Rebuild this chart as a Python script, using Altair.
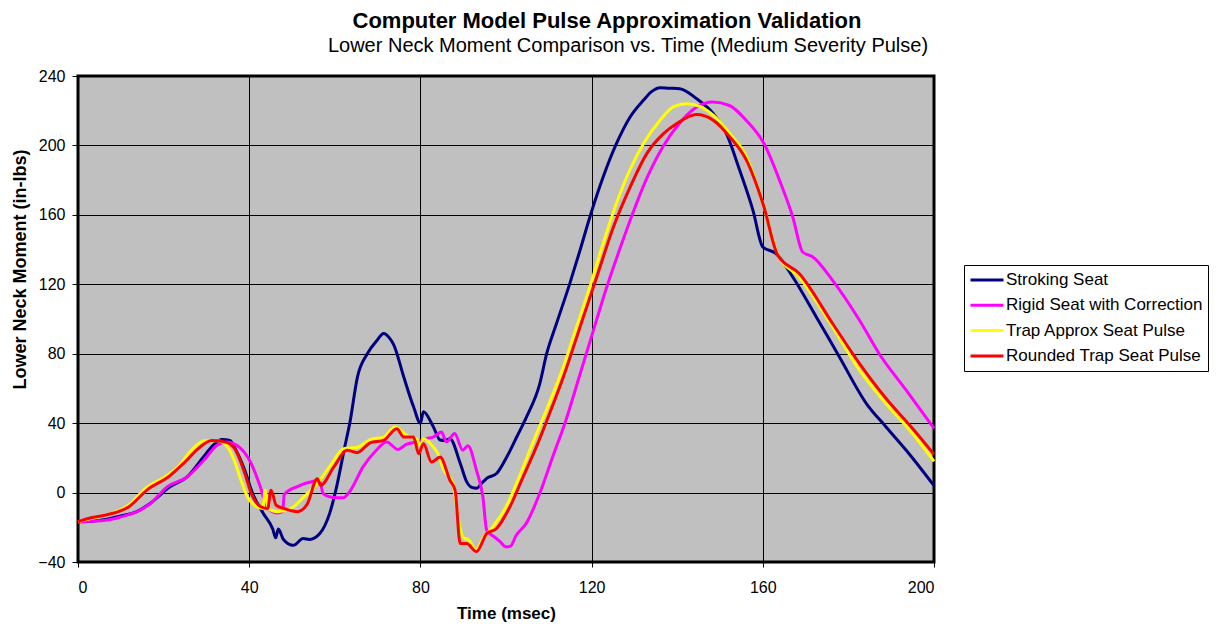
import altair as alt
import pandas as pd

FONT = "Liberation Sans"

TITLE = "Computer Model Pulse Approximation Validation"
SUBTITLE = "Lower Neck Moment Comparison vs. Time (Medium Severity Pulse)"
X_TITLE = "Time (msec)"
Y_TITLE = "Lower Neck Moment (in-lbs)"

SERIES = ["Stroking Seat", "Rigid Seat with Correction",
          "Trap Approx Seat Pulse", "Rounded Trap Seat Pulse"]
COLORS = ["#000080", "#FF00FF", "#FFFF00", "#FF0000"]

X_TICKS = [0, 40, 80, 120, 160, 200]
Y_TICKS = [-40, 0, 40, 80, 120, 160, 200, 240]

# Stroking Seat
T_STROKE = [0, 3, 6.4, 10, 13.7, 17, 21.5, 25.5, 29.3, 31.5, 33.6, 35.5, 37, 38.7, 41,
            43.3, 45.5, 46.2, 46.8, 48, 50.3, 52.6, 54.1, 56.5, 58.8, 60.3, 62.3, 63.5,
            65.3, 67.6, 69.9, 71.4, 72.8, 73.8, 76.1, 78.4, 80, 80.7, 83, 84.6, 85.8, 86.9,
            89.3, 90.8, 92, 93.2, 94.2, 95.5, 97.8, 100.2, 102.5, 104.8, 107.9, 109.5,
            111.8, 114.9, 117.3, 119.6, 122.7, 125.8, 129, 132.1, 134, 136, 138, 140.6,
            144.5, 148.4, 151.5, 154.6, 157.7, 160, 163.1, 167, 172.5, 177.9, 184.2,
            188.8, 193.5, 200]
V_STROKE = [-16.8, -16.5, -15.5, -13.5, -11, -6, 3.3, 9, 20.5, 27, 30.6, 30, 24, 14.6, -1.7,
            -12, -21, -26, -21, -27, -30.4, -26.5, -27, -23.6, -12, 2, 26, 40,
            66.7, 80, 87.8, 91.7, 89, 85, 66.7, 49.4, 40, 46.6, 38, 30.3, 30, 31,
            16.9, 6.3, 3, 2.5, 5, 8.2, 11, 20.6, 32, 43.6, 62.8, 80,
            97.4, 120.4, 139.6, 158.8, 181.8, 201, 216.4, 226, 231, 233.3, 233, 232.7,
            227, 218.4, 206.8, 185.7, 162.6, 141.5, 137.7, 124.2, 101.2, 78.1, 51.3,
            37.8, 24.4, 4]

# Rigid Seat with Correction
T_RIGID = [0, 3, 6.4, 10, 13.8, 16.9, 20.8, 25.5, 29.4, 32.5, 34.8, 37.1, 40.3, 42.6, 44.1,
           46.5, 47.8, 48.2, 51.1, 55, 56.4, 57.3, 59, 62, 63.6, 66.6, 69.7, 72.1, 74.8,
           76.7, 79.1, 81.4, 83, 84.9, 86.1, 88, 89.9, 91.1, 93.1, 94.6, 95.5, 97.3, 98.5,
           100, 101, 102.4, 104.7, 107.8, 110.9, 114, 117.1, 120.2, 123.3, 126.5, 129.6,
           132.7, 136.6, 140.5, 144.4, 148.3, 152.2, 156.1, 160.4, 163.9, 167, 169.3,
           171.7, 176.3, 182.6, 187.2, 193.5, 200]
V_RIGID = [-16.8, -16.5, -16, -14, -11, -6.4, 3.3, 9, 18.6, 27.3, 29.2, 27.3, 17.6, 3.3, -8.3,
           -11.7, -11, -1, 3.3, 6.5, 7, -0.6, -2.5, -3, 1, 14.8, 24.4, 29.2, 24.8,
           27.8, 29.2, 31.1, 32, 34.9, 29.2, 34, 24.4, 27, 12.8, -2.5, -21.7, -25.6, -28,
           -31.3, -31, -24.6, -17.9, -1, 20.5, 41.7, 66.6, 91.6, 116.6, 139.7, 160.8,
           180, 199, 212.6, 221.8, 225, 223, 214.5, 200.5, 180, 158.8, 138.6,
           135.7, 122.3, 99.3, 80, 59, 37]

# Trap Approx Seat Pulse
T_TRAP = [0, 3, 6.4, 11.8, 15.7, 20.3, 23.4, 26.5, 29.6, 32.7, 35, 36.5, 38.1, 39.6, 41.9,
          43.2, 43.7, 44.4, 46.6, 49.7, 52.8, 55.9, 59, 62.1, 65.2, 68.3, 71.4, 74.1, 76.8,
          79.1, 80, 80.7, 83, 84.1, 85.3, 87.6, 88.8, 89.9, 91.4, 93, 94.6, 96.9, 100,
          103.1, 106.2, 110.2, 113.4, 116.5, 119.6, 122.7, 125.8, 128.9, 132.1, 136,
          139.1, 142.2, 145.3, 148.4, 152.3, 156.2, 160.1, 163.5, 168.5, 176.3, 182.6,
          188.8, 195, 200]
V_TRAP = [-16.8, -15, -13, -7.3, 2.3, 9, 14.8, 24.4, 29.8, 29.8, 26, 18.6, 7.1, -2.5, -8.3,
          -9.2, 1.4, -9, -11, -9.2, -2.5, 5.2, 15.7, 25.3, 26, 30.5, 32, 37.8, 33,
          31, 27.2, 31, 26.3, 22.4, 13.8, 5.2, -14, -25.6, -27.5, -33.2, -26.5, -19.8, -8.3,
          9, 28.2, 52, 72.4, 95.4, 118.5, 143.5, 166.5, 185.7, 201, 214.5,
          222.2, 224, 222.5, 217.4, 206.8, 193.4, 166, 137, 124.2, 95.4, 70.5,
          51.3, 34, 18]

# Rounded Trap Seat Pulse
T_ROUND = [0, 3, 6.4, 11.8, 16.5, 21.1, 25, 28.1, 31.2, 34.3, 36.6, 39, 40.5, 42.8, 44.3,
           45.1, 46.3, 48.2, 51.3, 53.6, 55.9, 56.7, 59.8, 62.9, 65.2, 68.3, 71.4, 74.5,
           76.1, 78.4, 79.6, 80.7, 82.6, 84.6, 86.9, 88.1, 89.3, 90.8, 93.1, 95.5, 97.8,
           100.9, 104, 107.1, 110.1, 113.4, 117.3, 121.2, 125.1, 129, 132.9, 136.8, 139.9,
           144.5, 148.4, 152.3, 156.2, 160.1, 163.5, 168.5, 176.3, 182.6, 188.8, 195, 200]
V_ROUND = [-16.8, -14.5, -13, -8.3, 2.3, 9, 17.6, 25.3, 30, 29.2, 25.3, 10.9, -0.6, -8.3, -9.2,
           1.4, -7.3, -9.2, -11, -6.4, 8, 4.2, 14.8, 24.4, 23, 28.7, 30.1, 36.8,
           32, 32, 22.4, 28.2, 17.6, 20.5, 7.1, 1.4, -29.4, -29.4, -34, -23.6, -20.7,
           -8.3, 9, 26.3, 45, 66.6, 95.4, 124.2, 153, 176, 195.3, 206.8, 212.6,
           217.8, 214.5, 204.9, 191.4, 166, 136.7, 126.2, 97.4, 74.3, 54.2, 36.9, 22]

rows = []
for k, (name, ts, vs) in enumerate(zip(SERIES, [T_STROKE, T_RIGID, T_TRAP, T_ROUND],
                                       [V_STROKE, V_RIGID, V_TRAP, V_ROUND])):
    for t, v in zip(ts, vs):
        rows.append({"series": name, "time": t, "moment": v, "k": k})
df = pd.DataFrame(rows)

lines = alt.Chart(df).mark_line(strokeWidth=3, interpolate="monotone").encode(
    x=alt.X("time:Q",
            scale=alt.Scale(domain=[0, 200], nice=False, zero=False),
            axis=alt.Axis(values=X_TICKS, title=X_TITLE, tickSize=5, labelPadding=12,
                          titleY=56, titleBaseline="alphabetic", titleFontSize=17)),
    y=alt.Y("moment:Q",
            scale=alt.Scale(domain=[-40, 240], nice=False, zero=False),
            axis=alt.Axis(values=Y_TICKS, title=Y_TITLE, tickSize=6, labelPadding=7,
                          titleAngle=270, titleX=-53, titleY=193, titleAlign="center",
                          titleBaseline="alphabetic", titleFontSize=18)),
    color=alt.Color("series:N",
                    scale=alt.Scale(domain=SERIES, range=COLORS),
                    sort=SERIES,
                    legend=alt.Legend(title=None, orient="none", legendX=886, legendY=189,
                                      symbolType="stroke", symbolSize=1089,
                                      symbolStrokeWidth=3, clipHeight=20,
                                      labelFont=FONT, labelFontSize=17, labelColor="black",
                                      labelOffset=1, labelLimit=400,
                                      strokeColor="black", fillColor="white",
                                      padding=5, rowPadding=5.3)),
    detail="k:O",
)

title_layer = alt.Chart(pd.DataFrame({"text": [TITLE]})).mark_text(
    font=FONT, fontSize=22, fontWeight="bold", align="center",
    baseline="alphabetic", color="black"
).encode(text="text:N", x=alt.value(529), y=alt.value(-48))

sub_layer = alt.Chart(pd.DataFrame({"text": [SUBTITLE]})).mark_text(
    font=FONT, fontSize=20, align="center", baseline="alphabetic", color="black"
).encode(text="text:N", x=alt.value(550), y=alt.value(-24))

chart = alt.layer(lines, title_layer, sub_layer).properties(
    width=856, height=486,
    autosize=alt.AutoSizeParams(type="none"),
    padding={"left": 70, "top": 68, "right": 277, "bottom": 60},
    background="white",
).configure_view(
    fill="#C0C0C0", stroke="black", strokeWidth=3
).configure_axis(
    labelFont=FONT, labelFontSize=16, labelColor="black",
    titleFont=FONT, titleFontWeight="bold", titleColor="black",
    tickColor="black", tickWidth=1, domain=False,
    grid=True, gridColor="black", gridOpacity=1, gridWidth=1,
)

chart.save("out.html", embed_options={"renderer": "svg", "actions": False})
